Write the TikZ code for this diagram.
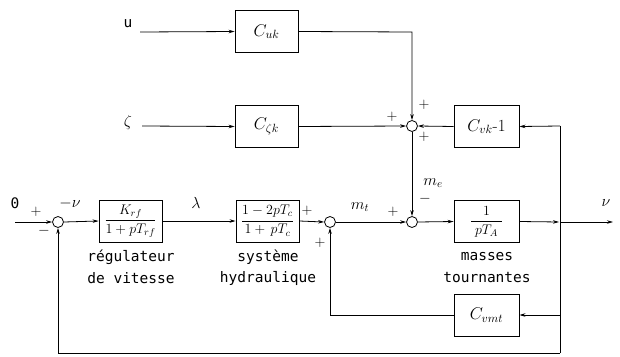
\RequirePackage{fix-cm}
\documentclass[tikz,border=0pt]{standalone}
\usepackage{fontspec}
\newfontfamily\lab{DejaVu Sans Mono}
\usetikzlibrary{arrows.meta}
\begin{document}
\begin{tikzpicture}[x=1pt,y=-1pt,
  blk/.style={draw, line width=0.9pt, minimum width=63pt, minimum height=42pt, inner sep=0pt, font=\fontsize{14}{16}\selectfont},
  big/.style={font=\fontsize{17}{19}\selectfont},
  sumj/.style={draw, circle, minimum size=11pt, inner sep=0pt, line width=0.8pt},
  ln/.style={line width=0.8pt},
  ar/.style={ln, -{Stealth[length=6pt,width=3.5pt]}},
  txt/.style={font=\lab\fontsize{14.5}{17}\selectfont, inner sep=0pt},
  sgn/.style={font=\fontsize{15}{16}\selectfont, inner sep=0pt},
  sym/.style={font=\fontsize{16}{18}\selectfont, inner sep=0pt}]
\useasboundingbox (0,0) rectangle (620,356);
% nodes
\node[blk, big] (cuk) at (266.5,31.5) {$C_{uk}$};
\node[blk, big] (czk) at (266.5,126.5) {$C_{\zeta k}$};
\node[blk, big, minimum width=65pt] (cvk) at (486.5,126.5) {$C_{vk}$-1};
\node[blk] (krf) at (130.5,221) {$\displaystyle\frac{K_{rf}}{1+pT_{rf}}$};
\node[blk] (hyd) at (267.5,221) {$\displaystyle\frac{1-2pT_c}{1+\,pT_c}$};
\node[blk, minimum width=65pt] (ta) at (486.5,221.5) {$\displaystyle\frac{\;\;\;1\;\;\;}{pT_A}$};
\node[blk, big, minimum width=65pt] (cvm) at (486.5,315) {$C_{vmt}$};
\node[sumj] (s1) at (58,222) {};
\node[sumj] (s2) at (330,222) {};
\node[sumj] (s3) at (412,126) {};
\node[sumj] (s4) at (412,222) {};
% coordinates
\coordinate (u0) at (140,32);
\coordinate (z0) at (142,126);
\coordinate (i0) at (15,222);
\coordinate (c1) at (412,32);
\coordinate (r1) at (560,126);
\coordinate (j) at (560,222);
\coordinate (o) at (613,222);
\coordinate (r2) at (560,315);
\coordinate (r3) at (560,353);
\coordinate (b1) at (58,353);
\coordinate (b2) at (330,315);
% labels
\node[txt] at (128,24) {u};
\node[sym] at (128,122) {$\zeta$};
\node[txt] at (15,203) {0};
\node[sgn] at (36,212) {+};
\node[sgn] at (44,231) {$-$};
\node[sym] at (70,203) {$-\nu$};
\node[sym] at (196,203) {$\lambda$};
\node[sgn] at (307,211) {+};
\node[sgn] at (320,243) {+};
\node[sym] at (360,207) {$m_t$};
\node[sgn] at (393,212) {+};
\node[sym] at (433,183) {$m_e$};
\node[sgn] at (425,199) {$-$};
\node[sgn] at (424,105) {+};
\node[sgn] at (392,117) {+};
\node[sgn] at (424,137) {+};
\node[sym] at (606,203) {$\nu$};
\node[txt] at (131,257) {régulateur};
\node[txt] at (131,278) {de vitesse};
\node[txt] at (268,257) {système};
\node[txt] at (268,278) {hydraulique};
\node[txt] at (487,257) {masses};
\node[txt] at (487,278) {tournantes};
% connectors
\draw[ar] (u0) -- (cuk.west);
\draw[ar] (z0) -- (czk.west);
\draw[ar] (cuk.east) -- (c1) -- (s3.north);
\draw[ar] (czk.east) -- (s3.west);
\draw[ar] (cvk.west) -- (s3.east);
\draw[ar] (r1) -- (cvk.east);
\draw[ar] (s3.south) -- (s4.north);
\draw[ar] (i0) -- (s1.west);
\draw[ar] (s1.east) -- (krf.west);
\draw[ar] (krf.east) -- (hyd.west);
\draw[ar] (hyd.east) -- (s2.west);
\draw[ar] (s2.east) -- (s4.west);
\draw[ar] (s4.east) -- (ta.west);
\draw[ar] (ta.east) -- ([xshift=-1pt]j);
\draw[ar] (j) -- (o);
\draw[ln] (r1) -- (r3);
\draw[ar] (r2) -- (cvm.east);
\draw[ar] (cvm.west) -- (b2) -- (s2.south);
\draw[ar] (r3) -- (b1) -- (s1.south);
\end{tikzpicture}
\end{document}
